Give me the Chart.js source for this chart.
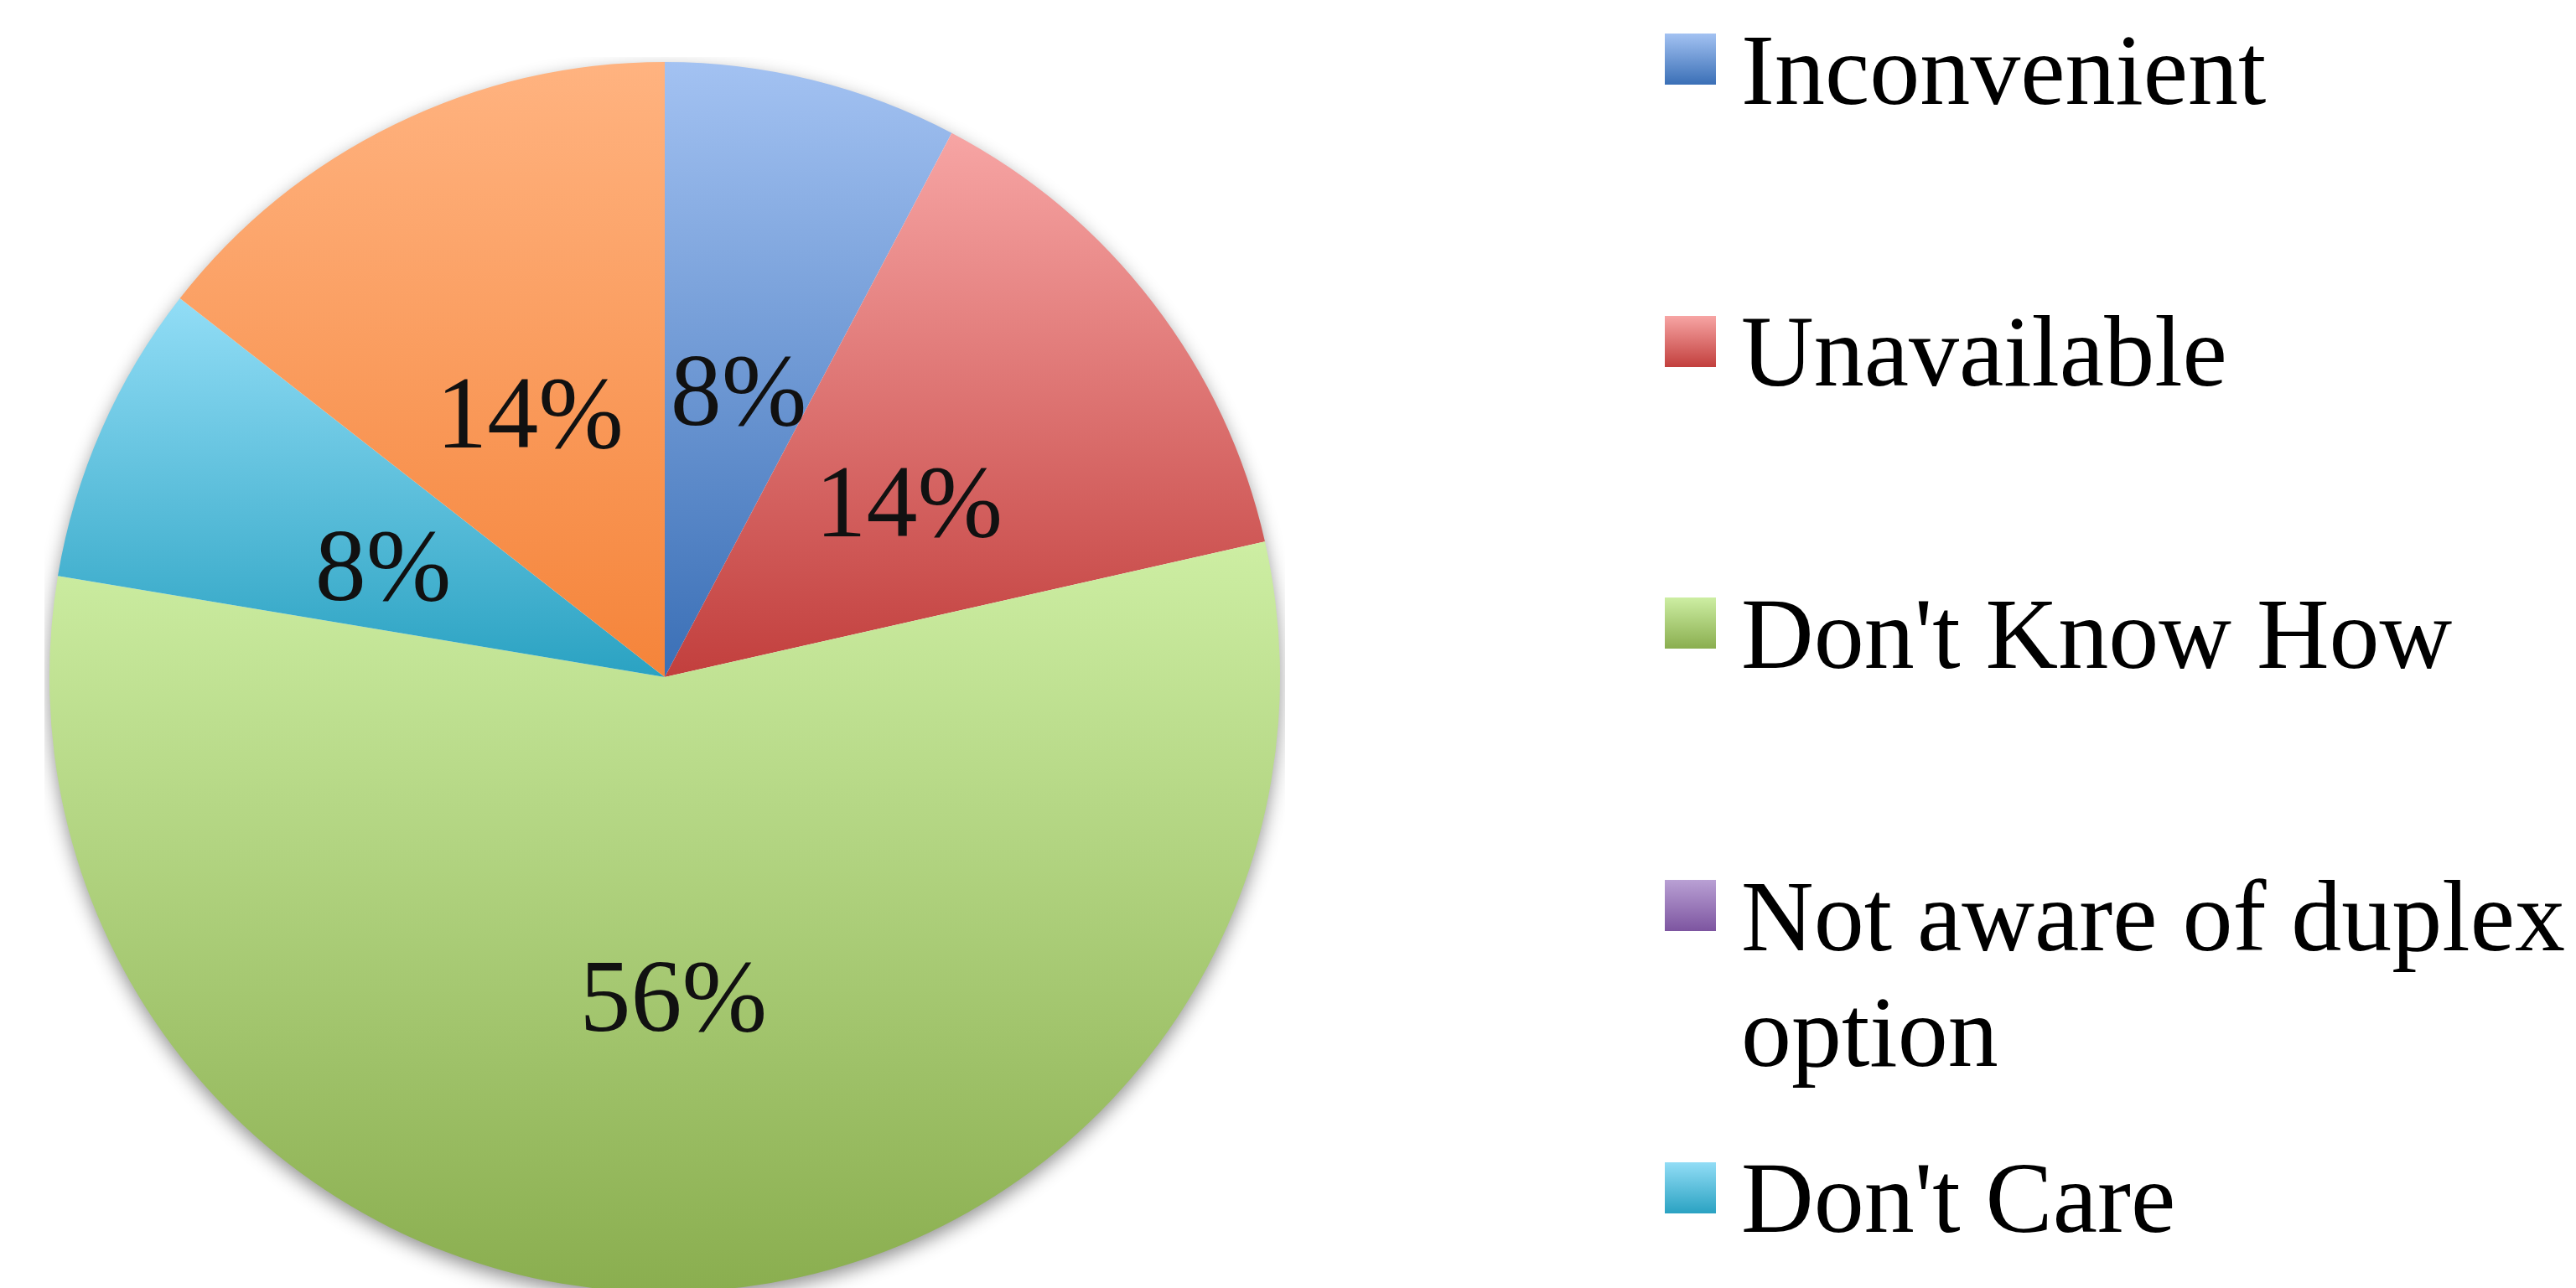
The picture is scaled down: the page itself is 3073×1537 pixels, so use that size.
<!DOCTYPE html>
<html>
<head>
<meta charset="utf-8">
<script src="https://cdn.jsdelivr.net/npm/chart.js@4"></script>
<style>
  html, body { margin: 0; padding: 0; background: #fff; overflow: hidden; }
  body { width: 3073px; height: 1537px; position: relative; }
  #pieBox { position: absolute; left: 53px; top: 68px; width: 1480px; height: 1480px; }
  .legend-marker { position: absolute; left: 1986px; width: 61px; height: 61px; }
  .legend-text {
    position: absolute; left: 2077px; width: 1000px;
    font-family: "Liberation Serif", "DejaVu Serif", serif;
    font-size: 120px; line-height: 138px; color: #000;
  }
</style>
</head>
<body>
<div id="pieBox"><canvas id="pie" width="1480" height="1480"></canvas></div>
<div id="legend"></div>
<script>
const categories = ['Inconvenient', 'Unavailable', "Don't Know How", 'Not aware of duplex option', "Don't Care", 'Other'];
const shares = [7.7, 13.7, 56.0, 0, 7.9, 14.4];

// gradient ends for each slice: light at top, base colour at bottom
const topColors = ['#a3c2f2', '#f7a5a4', '#cdeea3', '#b9a0d4', '#92ddf6', '#ffb380'];
const bottomColors = ['#3a6fb6', '#c23f3d', '#8aae4f', '#7d55a0', '#2aa2c2', '#f5843a'];

const total = shares.reduce((a, b) => a + b, 0);

// vertical gradient spanning the slice's own height
function sliceGradient(context) {
  const chart = context.chart;
  const i = context.dataIndex;
  const area = chart.chartArea;
  if (!area) return bottomColors[i];
  const cx = (area.left + area.right) / 2;
  const cy = (area.top + area.bottom) / 2;
  const r = Math.min(area.width, area.height) / 2;
  let start = -Math.PI / 2;
  for (let k = 0; k < i; k++) start += shares[k] / total * 2 * Math.PI;
  const end = start + shares[i] / total * 2 * Math.PI;
  const ys = [cy, cy + r * Math.sin(start), cy + r * Math.sin(end)];
  for (const a of [-Math.PI / 2, Math.PI / 2, 3 * Math.PI / 2]) {
    if (a >= start && a <= end) ys.push(cy + r * Math.sin(a));
  }
  const ymin = Math.min(...ys);
  let ymax = Math.max(...ys);
  if (ymax - ymin < 1) ymax = ymin + 1;
  const g = chart.ctx.createLinearGradient(0, ymin, 0, ymax);
  g.addColorStop(0, topColors[i]);
  g.addColorStop(1, bottomColors[i]);
  return g;
}

// soft drop shadow under the whole pie
const pieShadow = {
  id: 'pieShadow',
  beforeDatasetsDraw(chart) {
    const arc = chart.getDatasetMeta(0).data[0];
    if (!arc) return;
    const { x, y, outerRadius } = arc.getProps(['x', 'y', 'outerRadius'], true);
    const ctx = chart.ctx;
    ctx.save();
    ctx.shadowColor = 'rgba(0,0,0,0.45)';
    ctx.shadowBlur = 22;
    ctx.shadowOffsetY = 8;
    ctx.fillStyle = '#fff';
    ctx.beginPath();
    ctx.arc(x, y, outerRadius - 1, 0, Math.PI * 2);
    ctx.fill();
    ctx.restore();
  }
};

// percentage labels inside the slices
const pieLabels = {
  id: 'pieLabels',
  afterDatasetsDraw(chart) {
    const ctx = chart.ctx;
    const fs = 122;
    ctx.save();
    ctx.font = fs + 'px "Liberation Serif", "DejaVu Serif", serif';
    ctx.fillStyle = '#111';
    ctx.textAlign = 'center';
    ctx.textBaseline = 'alphabetic';
    chart.getDatasetMeta(0).data.forEach((arc, i) => {
      if (!shares[i]) return;
      const p = arc.getProps(['x', 'y', 'startAngle', 'endAngle', 'outerRadius'], true);
      const mid = (p.startAngle + p.endAngle) / 2;
      const rr = p.outerRadius * 0.5;
      const text = Math.round(shares[i] / total * 100) + '%';
      ctx.fillText(text, p.x + rr * Math.cos(mid), p.y + rr * Math.sin(mid) + 0.34 * fs + 14);
    });
    ctx.restore();
  }
};

new Chart(document.getElementById('pie'), {
  type: 'pie',
  data: {
    labels: categories,
    datasets: [{
      data: shares,
      backgroundColor: sliceGradient,
      borderWidth: 0
    }]
  },
  options: {
    responsive: false,
    animation: false,
    layout: { padding: 6 },
    plugins: {
      legend: { display: false },
      tooltip: { enabled: false }
    }
  },
  plugins: [pieShadow, pieLabels]
});

// legend on the right, one entry every ~337px
const legend = document.getElementById('legend');
categories.forEach((name, i) => {
  const baseline = 124 + 336.7 * i;
  const marker = document.createElement('div');
  marker.className = 'legend-marker';
  marker.style.top = (baseline - 84) + 'px';
  marker.style.background = 'linear-gradient(to bottom, ' + topColors[i] + ', ' + bottomColors[i] + ')';
  legend.appendChild(marker);
  const text = document.createElement('div');
  text.className = 'legend-text';
  text.style.top = (baseline - 109.5) + 'px';
  text.textContent = name;
  legend.appendChild(text);
});
</script>
</body>
</html>
